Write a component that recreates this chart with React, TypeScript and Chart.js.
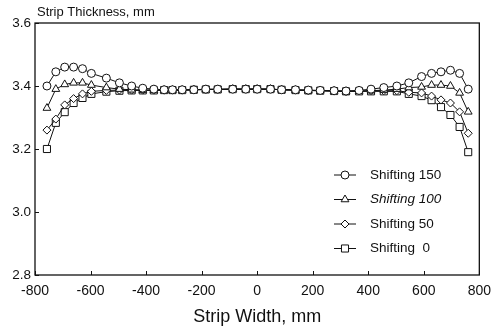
import React, { useEffect, useRef } from "react";
import { Chart, registerables } from "chart.js";

Chart.register(...registerables);

const X_TITLE = "Strip Width, mm";
const Y_TITLE = "Strip Thickness, mm";
const X_TICKS = [-800, -600, -400, -200, 0, 200, 400, 600, 800];
const Y_TICKS = [2.8, 3.0, 3.2, 3.4, 3.6];

const widthPositions = [
  -757, -725, -693, -661, -629, -597, -543, -496, -452, -412,
  -372, -335, -305, -270, -228, -185, -142, -88, -41, 0,
  48, 88, 138, 184, 227, 277, 320, 367, 410, 456,
  503, 546, 592, 628, 662, 696, 729, 760,
];

const shifting150 = [
  3.4, 3.445, 3.46, 3.46, 3.455, 3.44, 3.425, 3.41, 3.4, 3.393,
  3.39, 3.388, 3.388, 3.388, 3.388, 3.39, 3.39, 3.39, 3.39, 3.39,
  3.39, 3.388, 3.388, 3.387, 3.386, 3.385, 3.384, 3.386, 3.39, 3.395,
  3.4, 3.41, 3.43, 3.44, 3.445, 3.45, 3.44, 3.39,
];
const shifting100 = [
  3.33, 3.39, 3.405, 3.41, 3.41, 3.403, 3.395, 3.39, 3.388, 3.387,
  3.387, 3.387, 3.387, 3.387, 3.388, 3.389, 3.389, 3.39, 3.39, 3.39,
  3.39, 3.388, 3.387, 3.386, 3.385, 3.384, 3.383, 3.384, 3.385, 3.387,
  3.39, 3.395, 3.397, 3.403, 3.403, 3.4, 3.378, 3.318,
];
const shifting50 = [
  3.26, 3.295, 3.34, 3.36, 3.375, 3.383, 3.386, 3.387, 3.387, 3.387,
  3.387, 3.387, 3.387, 3.387, 3.388, 3.389, 3.389, 3.39, 3.39, 3.39,
  3.39, 3.388, 3.387, 3.386, 3.385, 3.384, 3.383, 3.384, 3.385, 3.385,
  3.385, 3.38, 3.378, 3.368, 3.356, 3.346, 3.318, 3.25,
];
const shifting0 = [
  3.2, 3.283, 3.317, 3.346, 3.362, 3.375, 3.382, 3.385, 3.386, 3.386,
  3.386, 3.387, 3.387, 3.387, 3.388, 3.389, 3.389, 3.39, 3.39, 3.39,
  3.39, 3.388, 3.387, 3.386, 3.385, 3.384, 3.383, 3.383, 3.383, 3.383,
  3.383, 3.375, 3.368, 3.355, 3.333, 3.308, 3.27, 3.19,
];

const seriesLabels = ["Shifting 150", "Shifting 100", "Shifting 50", "Shifting  0"];
const seriesValues = [shifting150, shifting100, shifting50, shifting0];
const seriesStyles = ["circle", "triangle", "rectRot", "rect"];
const seriesRadius = [4, 4.5, 4, 5];

const FONT = '"Liberation Sans", Arial, sans-serif';
const INK = "#111";

function drawMarker(ctx: CanvasRenderingContext2D, style: string, x: number, y: number, r: number) {
  ctx.beginPath();
  if (style === "circle") {
    ctx.arc(x, y, r, 0, Math.PI * 2);
  } else if (style === "triangle") {
    for (let k = 0; k < 3; k++) {
      const a = -Math.PI / 2 + (k * 2 * Math.PI) / 3;
      const px = x + Math.cos(a) * r;
      const py = y + Math.sin(a) * r;
      if (k === 0) ctx.moveTo(px, py);
      else ctx.lineTo(px, py);
    }
    ctx.closePath();
  } else if (style === "rectRot") {
    ctx.moveTo(x, y - r);
    ctx.lineTo(x + r, y);
    ctx.lineTo(x, y + r);
    ctx.lineTo(x - r, y);
    ctx.closePath();
  } else {
    const s = r * Math.SQRT1_2;
    ctx.rect(x - s, y - s, 2 * s, 2 * s);
  }
  ctx.fillStyle = "#fff";
  ctx.fill();
  ctx.stroke();
}

const framePlugin = {
  id: "frame",
  afterDraw(chart: any) {
    const { ctx, chartArea: a, scales } = chart;
    ctx.save();
    ctx.strokeStyle = INK;
    ctx.lineWidth = 1.3;
    ctx.strokeRect(a.left, a.top, a.right - a.left, a.bottom - a.top);
    ctx.lineWidth = 1;
    ctx.beginPath();
    X_TICKS.forEach((v) => {
      const px = Math.round(scales.x.getPixelForValue(v)) + 0.5;
      ctx.moveTo(px, a.bottom);
      ctx.lineTo(px, a.bottom - 4);
    });
    Y_TICKS.forEach((v) => {
      const py = Math.round(scales.y.getPixelForValue(v)) + 0.5;
      ctx.moveTo(a.left, py);
      ctx.lineTo(a.left + 4, py);
    });
    ctx.stroke();

    ctx.fillStyle = INK;
    ctx.font = `13px ${FONT}`;
    ctx.textBaseline = "middle";
    ctx.textAlign = "left";
    ctx.fillText(Y_TITLE, a.left + 2, a.top - 11);

    // legend
    chart.data.datasets.forEach((ds: any, i: number) => {
      const y = a.top + 152 + i * 24.5;
      const x0 = a.left + 299;
      const x1 = a.left + 321;
      ctx.lineWidth = 1;
      ctx.strokeStyle = INK;
      ctx.beginPath();
      ctx.moveTo(x0, y);
      ctx.lineTo(x1, y);
      ctx.stroke();
      drawMarker(ctx, seriesStyles[i], (x0 + x1) / 2, y, seriesRadius[i]);
      ctx.fillStyle = INK;
      ctx.font = i === 1 ? `italic 13.5px ${FONT}` : `13.5px ${FONT}`;
      ctx.fillText(ds.label, a.left + 335, y);
    });
    ctx.restore();
  },
};

export default function App() {
  const ref = useRef<HTMLCanvasElement | null>(null);

  useEffect(() => {
    if (!ref.current) return;
    const datasets = seriesLabels.map((label, i) => ({
      label,
      data: widthPositions.map((x, j) => ({ x, y: seriesValues[i][j] })),
      borderColor: INK,
      borderWidth: 1,
      backgroundColor: "#fff",
      pointStyle: seriesStyles[i] as any,
      pointRadius: seriesRadius[i],
      pointBorderColor: INK,
      pointBackgroundColor: "#fff",
      pointBorderWidth: 1,
      tension: 0,
    }));
    const chart = new Chart(ref.current, {
      type: "line",
      data: { datasets },
      options: {
        animation: false,
        responsive: false,
        maintainAspectRatio: false,
        layout: { padding: { top: 23, right: 17, left: 0, bottom: 0 } },
        plugins: { legend: { display: false }, tooltip: { enabled: false }, title: { display: false } },
        scales: {
          x: {
            type: "linear",
            min: -800,
            max: 800,
            afterFit: (s: any) => {
              s.height = 57;
            },
            afterBuildTicks: (s: any) => {
              s.ticks = X_TICKS.map((v) => ({ value: v }));
            },
            grid: { display: false, drawTicks: false },
            border: { display: false },
            ticks: {
              padding: 8,
              color: INK,
              font: { family: FONT, size: 14 },
              maxRotation: 0,
              callback: (v: any) => String(v),
            },
            title: {
              display: true,
              text: X_TITLE,
              color: INK,
              font: { family: FONT, size: 18 },
              padding: { top: 0, bottom: 4 },
            },
          },
          y: {
            type: "linear",
            min: 2.8,
            max: 3.6,
            afterFit: (s: any) => {
              s.width = 35;
            },
            afterBuildTicks: (s: any) => {
              s.ticks = Y_TICKS.map((v) => ({ value: v }));
            },
            grid: { display: false, drawTicks: false },
            border: { display: false },
            ticks: {
              padding: 4,
              color: INK,
              font: { family: FONT, size: 13.5 },
              callback: (v: any) => Number(v).toFixed(1),
            },
          },
        },
      },
      plugins: [framePlugin],
    });
    return () => chart.destroy();
  }, []);

  return (
    <div style={{ position: "absolute", left: 0, top: 0, width: 499, height: 332, background: "#fff" }}>
      <canvas ref={ref} width={499} height={332} style={{ width: 499, height: 332 }} />
    </div>
  );
}
